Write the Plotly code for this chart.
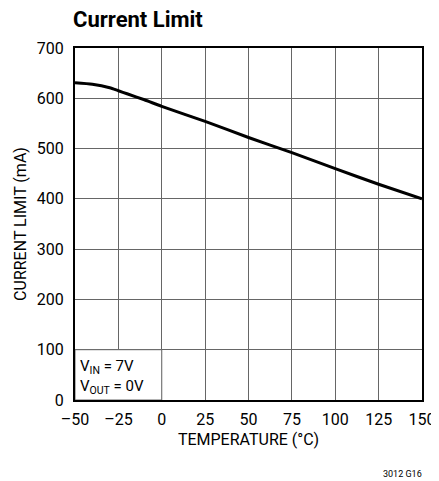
import plotly.graph_objects as go

temp = [-50, -40, -30, -25, -20, -10, 0, 25, 50, 75, 100, 125, 150]
current = [631, 628, 621, 615, 609, 597, 584, 554, 522, 492, 460, 429, 400]

x_ticks = [-50, -25, 0, 25, 50, 75, 100, 125, 150]
x_labels = ["–50", "–25", "0", "25", "50", "75", "100", "125", "150"]
y_ticks = [0, 100, 200, 300, 400, 500, 600, 700]

FONT = "Liberation Sans Narrow, Arial Narrow, Roboto, sans-serif"

fig = go.Figure()
fig.add_trace(go.Scatter(x=temp, y=current, mode="lines",
                         line=dict(color="black", width=3, shape="spline", smoothing=0.6),
                         hoverinfo="skip", showlegend=False))

fig.add_shape(type="rect", xref="x", yref="y", x0=-50, x1=0, y0=0, y1=100,
              fillcolor="white", line=dict(color="#666", width=1), layer="between")

fig.add_annotation(xref="x", yref="y", x=-50, xshift=3, y=46, xanchor="left", yanchor="middle",
                   text="V<sub>IN</sub> = 7V<br>V<sub>OUT</sub> = 0V", align="left",
                   showarrow=False, font=dict(family=FONT, size=15, color="black"))

fig.add_annotation(xref="paper", yref="paper", x=0, xshift=-4, y=1, yshift=14, xanchor="left", yanchor="bottom",
                   text="<b>Current Limit</b>", showarrow=False,
                   font=dict(family=FONT, size=22, color="black"))

fig.add_annotation(xref="paper", yref="paper", x=1, xshift=2, y=0, yshift=-81, xanchor="right", yanchor="bottom",
                   text="3012 G16", showarrow=False,
                   font=dict(family=FONT, size=9, color="black"))

fig.update_xaxes(range=[-50, 150], tickvals=x_ticks, ticktext=x_labels,
                 showgrid=True, gridcolor="#666", gridwidth=1,
                 showline=True, linecolor="black", linewidth=2, mirror=True,
                 ticks="", zeroline=False, ticklabelstandoff=4,
                 tickfont=dict(family=FONT, size=16, color="black"),
                 title=dict(text="TEMPERATURE (°C)", standoff=6,
                            font=dict(family=FONT, size=16, color="black")))
fig.update_yaxes(range=[0, 700], tickvals=y_ticks,
                 showgrid=True, gridcolor="#666", gridwidth=1,
                 showline=True, linecolor="black", linewidth=2, mirror=True,
                 ticks="", zeroline=False, ticklabelstandoff=6,
                 tickfont=dict(family=FONT, size=16, color="black"),
                 title=dict(text="CURRENT LIMIT (mA)", standoff=6,
                            font=dict(family=FONT, size=16, color="black")))

# the page body adds an 8px offset, so margins are compensated
fig.update_layout(width=439, height=481, margin=dict(l=65, r=22, t=40, b=89),
                  plot_bgcolor="white", paper_bgcolor="white", showlegend=False)

fig.write_html("out.html")
